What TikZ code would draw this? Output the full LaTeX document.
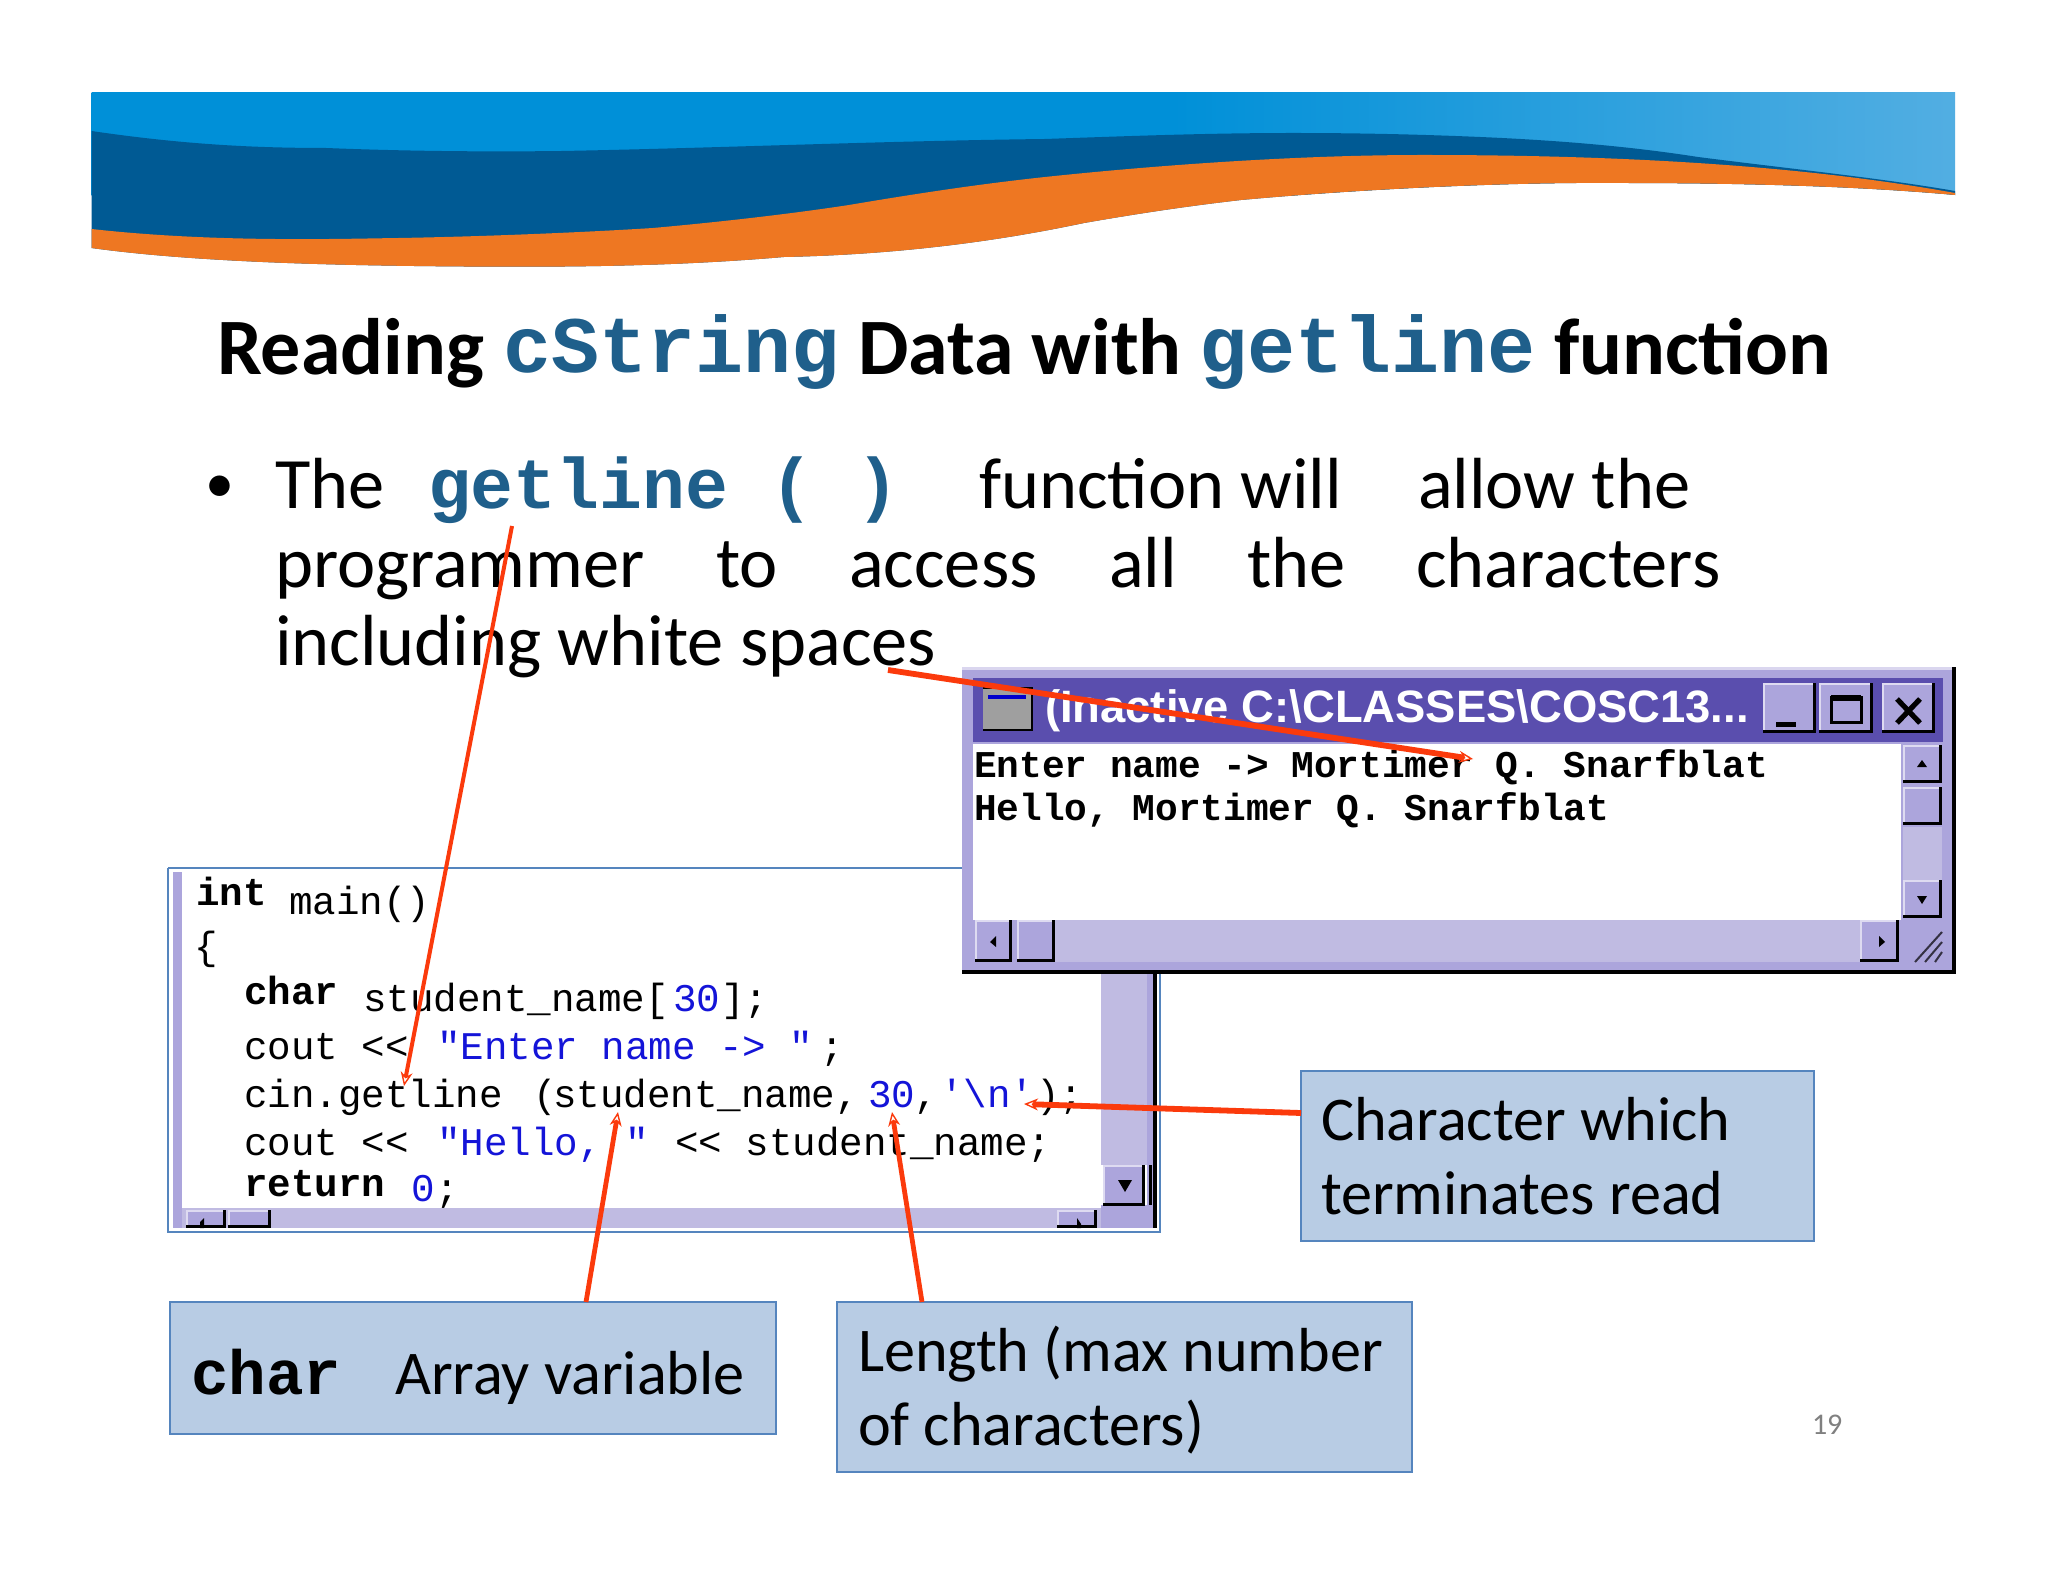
\documentclass[tikz,border=0pt]{standalone}
\usepackage{fontspec}
\setmainfont{Carlito}
\newfontfamily\cmono{Liberation Mono}
\newfontfamily\csans{Liberation Sans}
\usetikzlibrary{arrows.meta}
\definecolor{lblue}{HTML}{0090D8}
\definecolor{lblueR}{HTML}{52AEE2}
\definecolor{dblue}{HTML}{005A94}
\definecolor{orng}{HTML}{EE7722}
\definecolor{monoc}{HTML}{1F5F8B}
\definecolor{boxf}{HTML}{B8CCE4}
\definecolor{boxd}{HTML}{5585BE}
\definecolor{lav}{HTML}{ACA5DC}
\definecolor{lavtrack}{HTML}{C0BBE2}
\definecolor{lavtitle}{HTML}{5A4EAE}
\definecolor{arr}{HTML}{FB3A0C}
\definecolor{codeb}{HTML}{1414D8}
\pgfdeclarehorizontalshading{bannerG}{100bp}{color(0bp)=(lblue); color(25bp)=(lblue); color(54bp)=(lblue); color(75bp)=(lblueR); color(100bp)=(lblueR)}
\tikzset{
 txt/.style={anchor=base west,inner sep=0pt,outer sep=0pt},
 body/.style={txt,font=\fontsize{36.2}{36.2}\selectfont,text=black},
 bodym/.style={txt,font=\fontsize{35.7}{35.7}\selectfont\cmono\bfseries,text=monoc},
 ttl/.style={txt,font=\fontsize{40}{40}\selectfont\bfseries,text=black},
 ttlm/.style={txt,font=\fontsize{40}{40}\selectfont\cmono\bfseries,text=monoc},
 code/.style={txt,font=\fontsize{19.6}{19.6}\selectfont\cmono,text=black},
 codeB/.style={code,font=\fontsize{19.6}{19.6}\selectfont\cmono\bfseries},
 codeC/.style={code,text=codeb},
 con/.style={txt,font=\fontsize{18.9}{18.9}\selectfont\cmono\bfseries,text=black},
 callout/.style={draw=boxd,fill=boxf,line width=1.1pt,inner sep=0pt,outer sep=0pt,anchor=north west},
 btext/.style={txt,font=\fontsize{31.1}{31.1}\selectfont,text=black},
 tipw/.style={-{Stealth[length=7pt,width=6pt,line width=0.7pt,fill=white]}},
 pointer/.style={draw=arr,line width=2.4pt,tipw},
 pointerthick/.style={draw=arr,line width=2.9pt,tipw},
 pointerthin/.style={draw=arr,line width=2pt,tipw},
}
\newcommand{\rbtn}[4]{%
 \fill[lav] (#1,#2) rectangle (#3,#4);
 \draw[draw=white!60!lav,line width=1.2pt] (#1+1,#4-1) -- (#1+1,#2+1) -- (#3-1,#2+1);
 \draw[draw=black,line width=1.6pt] (#1,#4-1.5) -- (#3-1.5,#4-1.5) -- (#3-1.5,#2);
}
\begin{document}
\begin{tikzpicture}[x=0.5pt,y=-0.5pt]
\useasboundingbox (0,0) rectangle (2048,1582);
\fill[white] (0,0) rectangle (2048,1582);
% banner
\shade[shading=bannerG] (91.5,92.5) rectangle (1955,196);
\fill[white] (1955,195)
 .. controls (1900,190) and (1800,183) .. (1619,183)
 .. controls (1500,182) and (1350,190) .. (1241,200)
 -- (91.5,200) -- (91.5,210) -- (1955,210) -- cycle;
\fill[dblue] (91.5,131) .. controls (180,144) and (250,148) .. (326,148)
 .. controls (400,151) and (480,152) .. (562,151)
 .. controls (720,148) and (880,141) .. (1045,139)
 .. controls (1130,136) and (1210,133) .. (1293,133)
 .. controls (1370,133) and (1440,135) .. (1502,138)
 .. controls (1580,142) and (1640,148) .. (1698,157)
 .. controls (1800,170) and (1880,178) .. (1955,191) -- (1955,195)
 .. controls (1900,190) and (1800,183) .. (1619,183)
 .. controls (1500,182) and (1350,190) .. (1241,200)
 .. controls (1180,207) and (1130,215) .. (1084,223)
 .. controls (980,245) and (880,255) .. (784,257)
 .. controls (690,265) and (600,267) .. (496,266.7)
 .. controls (350,266) and (200,263) .. (91.5,248) -- cycle;
\fill[orng] (91.5,229) .. controls (190,240) and (290,240) .. (379,238.3)
 .. controls (480,237) and (590,232) .. (653,228)
 .. controls (720,222) and (790,214) .. (849,205)
 .. controls (920,193) and (980,184) .. (1045,177)
 .. controls (1130,168) and (1280,155) .. (1423,155)
 .. controls (1620,155) and (1800,165) .. (1955,193) -- (1955,195)
 .. controls (1900,190) and (1800,183) .. (1619,183)
 .. controls (1500,182) and (1350,190) .. (1241,200)
 .. controls (1180,207) and (1130,215) .. (1084,223)
 .. controls (980,245) and (880,255) .. (784,257)
 .. controls (690,265) and (600,267) .. (496,266.7)
 .. controls (350,266) and (200,263) .. (91.5,248) -- cycle;
% title
\node[ttl] (t1) at (217,375) {Reading};
\node[ttlm] (t2) at (503,373) {cString};
\node[ttl] (t3) at (858,375) {Data with};
\node[ttlm] (t4) at (1199,373) {getline};
\node[ttl] (t5) at (1554,375) {function};
% body
\node[body,font=\fontsize{29}{29}\selectfont] (bu) at (205,503) {•};
\node[body] (l1a) at (275,509) {The};
\node[bodym] (l1b) at (428,509) {getline ( )};
\node[body] (l1c) at (979,509) {function will};
\node[body] (l1d) at (1418,509) {allow the};
\node[body] (l2a) at (275,587.5) {programmer};
\node[body] (l2b) at (716,587.5) {to};
\node[body] (l2c) at (849,587.5) {access};
\node[body] (l2d) at (1109,587.5) {all};
\node[body] (l2e) at (1247,587.5) {the};
\node[body] (l2f) at (1416,587.5) {characters};
\node[body] (l3) at (275,665.5) {including white spaces};
% code window
\fill[white] (168,868) rectangle (1160,1232);
\fill[lav] (173,872) rectangle (182,1228);
\fill[lavtrack] (182,1208) rectangle (1101,1228);
\fill[lavtrack] (1101,970) rectangle (1147,1165);
\fill[lav] (1101,1205) rectangle (1155,1228);
\fill[lav] (1147,970) rectangle (1155,1228);
\rbtn{1103}{1165}{1145}{1206}
\fill[black] (1118,1180) -- (1132,1180) -- (1125,1192) -- cycle;
\rbtn{186}{1210}{226}{1228}
\rbtn{228}{1210}{271}{1228}
\rbtn{1057}{1210}{1097}{1228}
\fill[black] (200,1222) -- (204,1218) -- (204,1228) -- (200,1228) -- cycle;
\fill[black] (1077,1218) -- (1081,1224) -- (1081,1228) -- (1077,1228) -- cycle;
\draw[black,line width=1.5pt] (1150,1165) -- (1150,1205);
\draw[draw=black,line width=2pt] (1155,970) -- (1155,1228);
\draw[draw=boxd,line width=1.2pt] (168,868) -- (962,868) (168,868) -- (168,1232) -- (1160,1232) -- (1160,970);
\node[codeB] (c1a) at (196,905) {int};
\node[code] (c1b) at (289,914) {main()};
\node[code] (c2) at (194,959) {\{};
\node[codeB] (c3a) at (244,1004) {char};
\node[code] (c3b) at (363,1011) {student\_name[};
\node[codeC] (c3c) at (673,1011) {30};
\node[code] (c3d) at (721,1011) {];};
\node[code] (c4a) at (244,1059) {cout <<};
\node[codeC] (c4b) at (437,1059) {"Enter name -> "};
\node[code] (c4c) at (820,1059) {;};
\node[code] (c5a) at (244,1107) {cin.getline};
\node[code] (c5a2) at (533,1107) {(};
\node[code] (c5a3) at (553,1107) {student\_name,};
\node[codeC] (c5b) at (868,1107) {30};
\node[code] (c5c) at (914,1107) {,};
\node[codeC] (c5d) at (940,1107) {'\textbackslash n'};
\node[code] (c5e) at (1036,1107) {);};
\node[code] (c6a) at (244,1155) {cout <<};
\node[codeC] (c6b) at (437,1155) {"Hello, "};
\node[code] (c6c) at (675,1155) {<< student\_name;};
\node[codeB] (c7a) at (244,1196) {return};
\node[codeC] (c7b) at (411,1201) {0};
\node[code] (c7c) at (435,1201) {;};
% console window
\fill[lav] (962,667) rectangle (1955,973);
\fill[white!55!lav] (962,667) rectangle (1955,670);
\draw[black,line width=2pt] (962,972) -- (1954,972) -- (1954,667);
\fill[lavtitle] (973,678) rectangle (1943,742);
\fill[white] (973,744) rectangle (1901,920);
\fill[lavtrack] (1903,827) rectangle (1942,880);
\fill[lavtrack] (1055,920) rectangle (1860,962);
\rbtn{1763}{683}{1816}{733}
\rbtn{1819}{683}{1873}{733}
\rbtn{1882}{683}{1935}{733}
\fill[black] (1776,722) rectangle (1796,727);
\draw[black,line width=1.5pt] (1831,697) rectangle (1861,722);
\fill[black] (1831,695) rectangle (1861,701);
\draw[black,line width=2.6pt] (1897,699) -- (1920,723) (1920,699) -- (1897,723);
\fill[gray!75] (983,687) rectangle (1032,730);
\draw[black,line width=1pt] (983,688) -- (1032,688) -- (1032,730) -- (983,730);
\fill[blue!80!black] (988,695) rectangle (1026,699);
\node[txt,font=\fontsize{22.7}{22.7}\selectfont\csans\bfseries,text=white] (ctitle) at (1045,722) {(Inactive C:\textbackslash CLASSES\textbackslash COSC13...};
\rbtn{1903}{745}{1942}{783}
\fill[black] (1917,767) -- (1927,767) -- (1922,760) -- cycle;
\rbtn{1903}{787}{1942}{825}
\rbtn{1903}{880}{1942}{918}
\fill[black] (1917,896) -- (1927,896) -- (1922,904) -- cycle;
\rbtn{975}{920}{1012}{962}
\rbtn{1017}{920}{1055}{962}
\rbtn{1860}{920}{1899}{962}
\fill[black] (996,936) -- (996,947) -- (990,942) -- cycle;
\fill[black] (1879,936) -- (1879,947) -- (1885,942) -- cycle;
\draw[draw=black!70!lav,line width=1pt] (1915,962) -- (1942,932) (1925,962) -- (1942,942) (1935,962) -- (1942,952);
\node[con] (d1) at (974,777) {Enter name -> Mortimer Q. Snarfblat};
\node[con] (d2) at (974,820) {Hello, Mortimer Q. Snarfblat};
% callouts
\node[callout,minimum width=513pt*0.5,minimum height=170pt*0.5] (boxc) at (1301,1071) {};
\node[callout,minimum width=606pt*0.5,minimum height=132pt*0.5] (boxa) at (170,1302) {};
\node[callout,minimum width=575pt*0.5,minimum height=170pt*0.5] (boxl) at (837,1302) {};
\node[btext] (bc1) at (1321,1140) {Character which};
\node[btext] (bc2) at (1321,1214) {terminates read};
\node[txt,font=\fontsize{31.3}{31.3}\selectfont\cmono\bfseries] (ba1) at (191,1394) {char};
\node[btext] (ba2) at (395,1394) {Array variable};
\node[btext] (bl1) at (858,1371) {Length (max number};
\node[btext] (bl2) at (858,1445) {of characters)};
\node[txt,font=\fontsize{15}{15}\selectfont,text=black!50] (pg) at (1812,1434) {19};
% connectors
\coordinate (p1s) at (512,526);
\coordinate (p1e) at (404,1086);
\coordinate (p2s) at (888,670);
\coordinate (p2e) at (1473,759);
\coordinate (p3e) at (1024,1104);
\coordinate (p4e) at (618,1112);
\coordinate (p5e) at (892,1112);
\coordinate (p3s) at (boxc.west |- 0,1113);
\coordinate (p4s) at (586,1302);
\coordinate (p5s) at (922,1302);
\draw[pointerthin] (p1s) -- (p1e);
\draw[pointerthick] (p2s) -- (p2e);
\draw[pointerthick] (p3s) -- (p3e);
\draw[pointer] (p4s) -- (p4e);
\draw[pointer] (p5s) -- (p5e);
\end{tikzpicture}
\end{document}
